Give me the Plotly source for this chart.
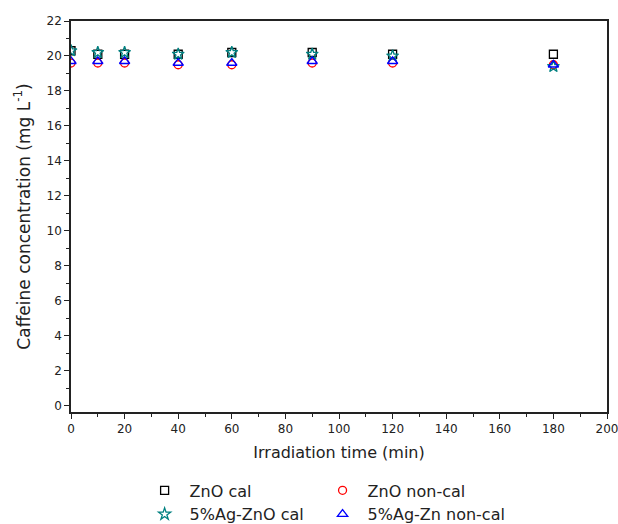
import plotly.graph_objects as go

time_min = [0, 10, 20, 40, 60, 90, 120, 180]
zno_cal = [20.3, 20.1, 20.1, 20.1, 20.2, 20.2, 20.1, 20.1]
zno_noncal = [19.6, 19.6, 19.6, 19.5, 19.5, 19.6, 19.6, 19.5]
ag_zno_cal = [20.3, 20.2, 20.2, 20.1, 20.2, 20.1, 20.0, 19.4]
ag_zn_noncal = [19.7, 19.7, 19.7, 19.6, 19.6, 19.7, 19.7, 19.5]

series = [
    ("ZnO cal", zno_cal, "square-open", "black", 8, "legend"),
    ("ZnO non-cal", zno_noncal, "circle-open", "red", 8, "legend2"),
    ("5%Ag-ZnO cal", ag_zno_cal, "star-open", "#008080", 9, "legend3"),
    ("5%Ag-Zn non-cal", ag_zn_noncal, "triangle-up-open", "blue", 9, "legend4"),
]

fig = go.Figure()
for name, vals, sym, col, sz, lg in series:
    fig.add_trace(go.Scatter(
        x=time_min, y=vals, mode="markers", name=name, legend=lg,
        marker=dict(symbol=sym, color=col, size=sz, line=dict(width=1.3, color=col)),
    ))

FONT = "DejaVu Sans"
axis_common = dict(
    showline=True, linecolor="#222", linewidth=1.5, mirror=True,
    ticks="outside", ticklen=5, tickwidth=1.2, tickcolor="#222",
    showgrid=False, zeroline=False, ticklabeloverflow="allow",
    tickfont=dict(family=FONT, size=12, color="#222"),
)

fig.update_xaxes(
    range=[0, 200], dtick=20, tick0=0,
    minor=dict(ticks="outside", ticklen=3, dtick=10, tickcolor="#222", tickwidth=1),
    title=dict(text="Irradiation time (min)", font=dict(family=FONT, size=16, color="#222"), standoff=12),
    **axis_common,
)
fig.update_yaxes(
    range=[-0.35, 22], dtick=2, tick0=0,
    minor=dict(ticks="outside", ticklen=3, dtick=1, tickcolor="#222", tickwidth=1),
    title=dict(text="Caffeine concentration (mg L<sup>-1</sup>)", font=dict(family=FONT, size=17, color="#222"), standoff=12),
    **axis_common,
)

legend_common = dict(
    orientation="h", xanchor="left", yanchor="top",
    font=dict(family=FONT, size=16, color="#222"),
    tracegroupgap=0, itemwidth=40, bgcolor="rgba(0,0,0,0)",
)

col1, col2 = 0.128, 0.46
row1, row2 = -0.157, -0.218

fig.update_layout(
    width=618, height=524,
    margin=dict(l=71, r=11, t=21, b=112, autoexpand=False),
    plot_bgcolor="white", paper_bgcolor="white",
    legend=dict(x=col1, y=row1, **legend_common),
    legend2=dict(x=col2, y=row1, **legend_common),
    legend3=dict(x=col1, y=row2, **legend_common),
    legend4=dict(x=col2, y=row2, **legend_common),
    showlegend=True,
)

fig.write_html("out.html")
